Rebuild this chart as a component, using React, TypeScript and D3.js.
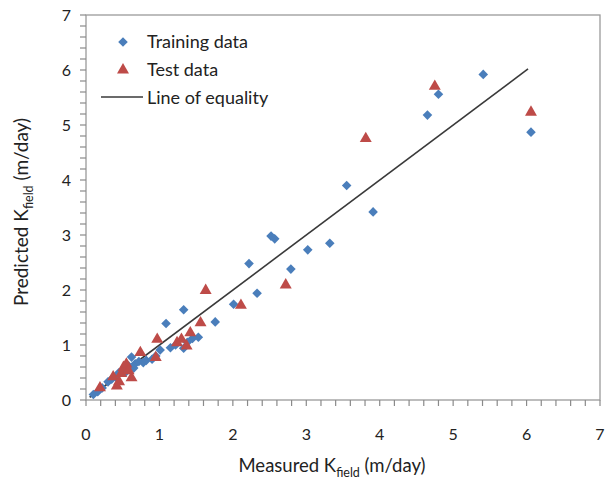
import React, { useEffect, useRef } from 'react';
import * as d3 from 'd3';

// measured vs predicted K (m/day)
const trainMeasured = [0.10, 0.16, 0.22, 0.30, 0.35, 0.40, 0.45, 0.50, 0.55, 0.58, 0.62, 0.65, 0.67, 0.72, 0.78, 0.82, 0.90, 0.95, 1.01, 1.09, 1.15, 1.22, 1.33, 1.33, 1.38, 1.45, 1.53, 1.76, 2.01, 2.22, 2.33, 2.52, 2.57, 2.79, 3.02, 3.32, 3.55, 3.91, 4.65, 4.80, 5.41, 6.06];
const trainPredicted = [0.10, 0.15, 0.22, 0.33, 0.38, 0.42, 0.50, 0.55, 0.52, 0.62, 0.78, 0.58, 0.66, 0.70, 0.68, 0.72, 0.74, 0.80, 0.91, 1.39, 0.95, 1.00, 0.94, 1.64, 1.05, 1.12, 1.14, 1.42, 1.74, 2.48, 1.94, 2.98, 2.93, 2.38, 2.73, 2.85, 3.90, 3.42, 5.18, 5.56, 5.92, 4.87];

const testMeasured = [0.19, 0.37, 0.42, 0.45, 0.48, 0.51, 0.55, 0.58, 0.62, 0.74, 0.95, 0.97, 1.24, 1.30, 1.37, 1.42, 1.56, 1.63, 2.11, 2.72, 3.81, 4.75, 6.06];
const testPredicted = [0.24, 0.44, 0.27, 0.35, 0.50, 0.61, 0.67, 0.55, 0.42, 0.88, 0.79, 1.12, 1.06, 1.12, 1.00, 1.24, 1.42, 2.01, 1.74, 2.11, 4.77, 5.72, 5.25];

const equalityLine = [0.05, 6.02];
const axisTicks = [0, 1, 2, 3, 4, 5, 6, 7];
const legendLabels = ['Training data', 'Test data', 'Line of equality'];

const App = () => {
    const svgRef = useRef(null);

    useEffect(() => {
        const width = 607,
              height = 484,
              margin = {top: 15, right: 7, bottom: 84, left: 86},
              font = 'Lato, "Open Sans", sans-serif',
              blue = '#4a7ebb',
              red = '#be4b48';

        const svg = d3.select(svgRef.current);
        svg.selectAll('*').remove();
        svg.attr('width', width).attr('height', height);

        const x = d3.scaleLinear().domain([0, 7]).range([margin.left, width - margin.right]);
        const y = d3.scaleLinear().domain([0, 7]).range([height - margin.bottom, margin.top]);

        // plot frame
        svg.append('rect')
            .attr('x', x(0))
            .attr('y', y(7))
            .attr('width', x(7) - x(0))
            .attr('height', y(0) - y(7))
            .attr('fill', 'none')
            .attr('stroke', '#9a9a9a')
            .attr('stroke-width', 1.3);

        const minor = d3.range(0, 7.001, 0.2);

        // ticks
        const tickGroup = svg.append('g').attr('stroke', '#8a8a8a').attr('stroke-width', 1.2);
        minor.forEach(v => {
            tickGroup.append('line')
                .attr('x1', x(0) - 6).attr('x2', x(0))
                .attr('y1', y(v)).attr('y2', y(v));
            tickGroup.append('line')
                .attr('x1', x(v)).attr('x2', x(v))
                .attr('y1', y(0)).attr('y2', y(0) + 6);
        });

        const labelGroup = svg.append('g')
            .style('font-family', font)
            .style('font-size', '16px')
            .attr('fill', '#222');

        axisTicks.forEach(v => {
            labelGroup.append('text')
                .attr('x', x(0) - 15)
                .attr('y', y(v) + 6)
                .attr('text-anchor', 'end')
                .text(v);
            labelGroup.append('text')
                .attr('x', x(v))
                .attr('y', y(0) + 40)
                .attr('text-anchor', 'middle')
                .text(v);
        });

        // axis titles
        const xTitle = svg.append('text')
            .attr('x', 332)
            .attr('y', 472)
            .attr('text-anchor', 'middle')
            .style('font-family', font)
            .style('font-size', '18.5px')
            .attr('fill', '#222');
        xTitle.append('tspan').text('Measured K');
        xTitle.append('tspan').attr('dy', 5).style('font-size', '12.5px').text('field');
        xTitle.append('tspan').attr('dy', -5).text(' (m/day)');

        const yTitle = svg.append('text')
            .attr('transform', 'translate(28,' + 212 + ') rotate(-90)')
            .attr('text-anchor', 'middle')
            .style('font-family', font)
            .style('font-size', '19px')
            .attr('fill', '#222');
        yTitle.append('tspan').text('Predicted K');
        yTitle.append('tspan').attr('dy', 5).style('font-size', '12.5px').text('field');
        yTitle.append('tspan').attr('dy', -5).text(' (m/day)');

        // line of equality
        svg.append('line')
            .attr('x1', x(equalityLine[0])).attr('y1', y(equalityLine[0]))
            .attr('x2', x(equalityLine[1])).attr('y2', y(equalityLine[1]))
            .attr('stroke', '#3a3a3a')
            .attr('stroke-width', 1.6);

        const diamond = d3.symbol().type(d3.symbolSquare).size(46);
        const triangle = d3.symbol().type(d3.symbolTriangle).size(62);

        svg.append('g')
            .attr('fill', blue)
            .selectAll('path')
            .data(trainMeasured.map((m, i) => [m, trainPredicted[i]]))
            .enter()
            .append('path')
            .attr('d', diamond)
            .attr('transform', d => 'translate(' + x(d[0]) + ',' + y(d[1]) + ') rotate(45)');

        svg.append('g')
            .attr('fill', red)
            .selectAll('path')
            .data(testMeasured.map((m, i) => [m, testPredicted[i]]))
            .enter()
            .append('path')
            .attr('d', triangle)
            .attr('transform', d => 'translate(' + x(d[0]) + ',' + (y(d[1]) + 1) + ')');

        // legend
        const legend = svg.append('g')
            .style('font-family', font)
            .style('font-size', '18px')
            .attr('fill', '#222');

        legend.append('path').attr('d', diamond).attr('fill', blue)
            .attr('transform', 'translate(123,42) rotate(45)');
        legend.append('path').attr('d', triangle).attr('fill', red)
            .attr('transform', 'translate(123,70)');
        legend.append('line')
            .attr('x1', 101).attr('x2', 143).attr('y1', 97).attr('y2', 97)
            .attr('stroke', '#3a3a3a').attr('stroke-width', 1.6);

        legendLabels.forEach((label, i) => {
            legend.append('text')
                .attr('x', 147)
                .attr('y', 48 + i * 28)
                .text(label);
        });
    }, []);

    return (
        <svg ref={svgRef} style={{position: 'absolute', left: 0, top: 0, background: '#fff'}}></svg>
    );
};

export default App;
